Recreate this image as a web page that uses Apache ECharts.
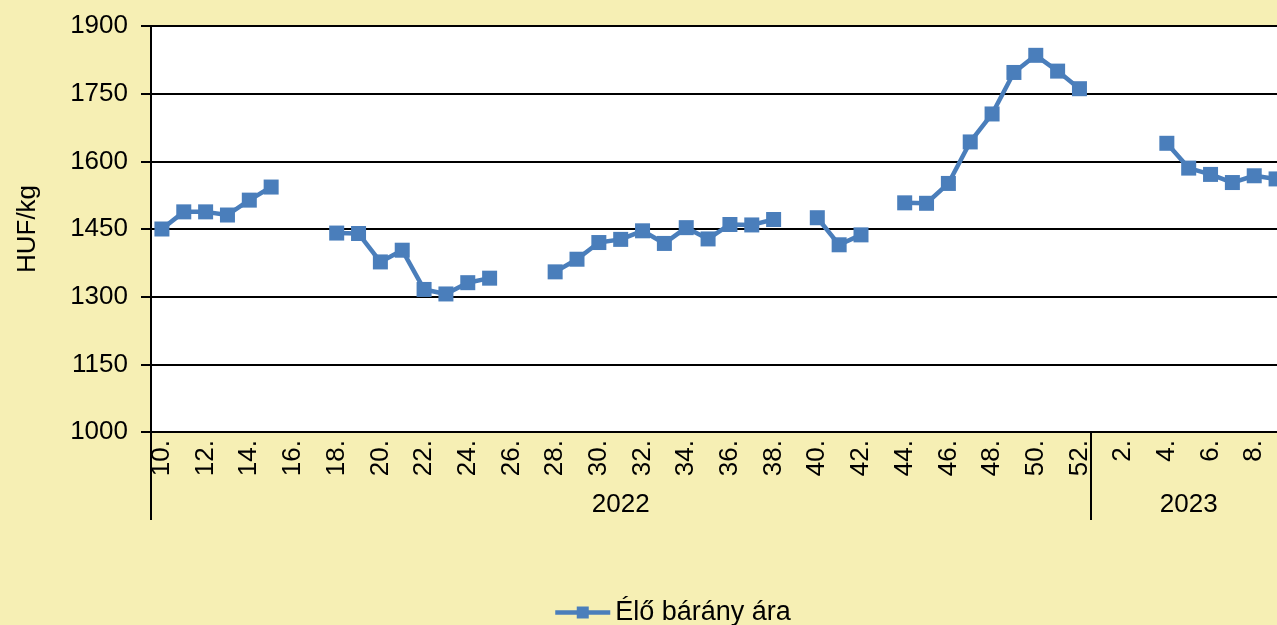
<!DOCTYPE html>
<html>
<head>
<meta charset="utf-8">
<script src="https://cdn.jsdelivr.net/npm/echarts@6/dist/echarts.min.js"></script>
<style>
  html, body { margin: 0; padding: 0; background: #f6efb4; }
  #main { width: 1277px; height: 625px; }
</style>
</head>
<body>
<div id="main"></div>
<script>
// hetek: 2022 10-52. hét, 2023 1-9. hét
const weeks = [
  '10.', '11.', '12.', '13.', '14.', '15.', '16.', '17.', '18.', '19.',
  '20.', '21.', '22.', '23.', '24.', '25.', '26.', '27.', '28.', '29.',
  '30.', '31.', '32.', '33.', '34.', '35.', '36.', '37.', '38.', '39.',
  '40.', '41.', '42.', '43.', '44.', '45.', '46.', '47.', '48.', '49.',
  '50.', '51.', '52.',
  '1.', '2.', '3.', '4.', '5.', '6.', '7.', '8.', '9.'
]
const years = ['2022', '2023']
const yearStart = [0, 43]   // elso het indexe evenkent
const yearMid = [21, 47]    // evszam felirat helye

const price = [
  1450, 1488, 1488, 1481, 1514, 1543, null, null, 1441, 1440,
  1377, 1403, 1316, 1306, 1331, 1341, null, null, 1355, 1383,
  1420, 1427, 1446, 1418, 1453, 1428, 1460, 1459, 1471, null,
  1475, 1415, 1437, null, 1508, 1507, 1551, 1643, 1705, 1797,
  1835, 1800, 1761,
  null, null, null, 1640, 1585, 1571, 1553, 1568, 1561
]

const yTicks = { min: 1000, max: 1900, step: 150 }

const chart = echarts.init(document.getElementById('main'))
const font = 'Liberation Sans, Arial, sans-serif'
const option = {
  backgroundColor: '#f6efb4',
  textStyle: { fontFamily: font },
  grid: {
    left: 151, top: 26, width: 1136, height: 406,
    outerBoundsMode: 'none',
    containLabel: false,
    show: true, backgroundColor: '#ffffff', borderWidth: 0
  },
  legend: {
    left: 548,
    bottom: -6,
    itemWidth: 55,
    itemHeight: 15,
    itemGap: 0,
    lineStyle: { width: 4.5 },
    textStyle: { fontSize: 27, color: '#000', fontFamily: font },
    data: ['Élő bárány ára']
  },
  xAxis: [
    {
      type: 'category',
      data: weeks,
      boundaryGap: true,
      axisLine: { lineStyle: { color: '#000', width: 2 } },
      axisTick: { show: false },
      axisLabel: {
        interval: 1,
        rotate: 90,
        fontSize: 26,
        color: '#000',
        margin: 8
      }
    },
    {
      type: 'category',
      data: weeks,
      position: 'bottom',
      boundaryGap: true,
      axisLine: { show: false },
      axisTick: {
        show: true,
        length: 88,
        interval: (i) => yearStart.includes(i),
        lineStyle: { color: '#000', width: 2 }
      },
      axisLabel: {
        interval: (i) => yearMid.includes(i),
        formatter: (v, i) => years[yearMid.indexOf(i)] || '',
        fontSize: 26,
        color: '#000',
        margin: 60
      }
    }
  ],
  yAxis: {
    type: 'value',
    min: yTicks.min,
    max: yTicks.max,
    interval: yTicks.step,
    name: 'HUF/kg',
    nameLocation: 'middle',
    nameGap: 110,
    nameTextStyle: { fontSize: 26, color: '#000' },
    axisLine: { show: true, lineStyle: { color: '#000', width: 2 } },
    axisTick: { show: true, length: 10, lineStyle: { color: '#000', width: 2 } },
    axisLabel: { fontSize: 26, color: '#000', margin: 23, formatter: (v) => String(v) },
    splitLine: { lineStyle: { color: '#000', width: 2 } }
  },
  series: [
    {
      name: 'Élő bárány ára',
      type: 'line',
      data: price,
      connectNulls: false,
      symbol: 'rect',
      symbolSize: 15,
      showAllSymbol: true,
      itemStyle: { color: '#4a7ebb' },
      lineStyle: { color: '#4a7ebb', width: 4.5 },
      emphasis: { disabled: true }
    }
  ],
  animation: false
}
chart.setOption(option)
</script>
</body>
</html>
